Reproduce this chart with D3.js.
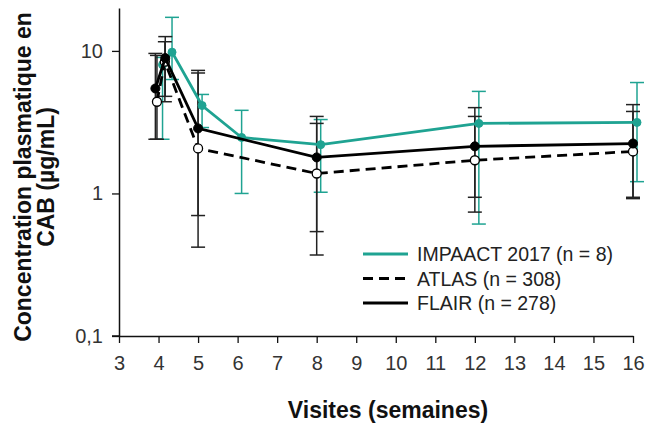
<!DOCTYPE html>
<html lang="fr">
<head>
  <meta charset="UTF-8">
  <title>Concentration plasmatique en CAB</title>
  <script src="https://d3js.org/d3.v7.min.js"></script>
  <style>
    body { margin: 0; background: #fff; }
    #chart { display: block; }
    text { font-family: "Liberation Sans", Arial, sans-serif; }
  </style>
</head>
<body>
  <svg id="chart" width="653" height="434"></svg>

  <script>
    // weeks shown on the x axis
    const xTicks = [3, 4, 5, 6, 7, 8, 9, 10, 11, 12, 13, 14, 15, 16];
    const yTicks = [0.1, 1, 10];

    // IMPAACT 2017 (teal, filled)
    const impaactWeeks = [4, 4.24, 5, 6, 8, 12, 16];
    const impaactMedian = [8.0, 9.8, 4.14, 2.47, 2.2, 3.1, 3.15];
    const impaactLow = [2.4, 6.3, 2.9, 1.0, 1.02, 0.61, 1.21];
    const impaactHigh = [9.0, 17.2, 4.95, 3.83, 3.3, 5.2, 6.0];

    // ATLAS (dashed, open circles)
    const atlasWeeks = [3.96, 4.16, 5, 8, 12, 16];
    const atlasMedian = [4.4, 8.4, 2.07, 1.38, 1.71, 1.97];
    const atlasLow = [2.4, 4.4, 0.42, 0.37, 0.74, 0.92];
    const atlasHigh = [9.3, 11.6, 7.0, 3.1, 3.47, 3.76];

    // FLAIR (solid black, filled)
    const flairWeeks = [3.92, 4.17, 5, 8, 12, 16];
    const flairMedian = [5.45, 8.9, 2.86, 1.79, 2.14, 2.24];
    const flairLow = [2.4, 4.8, 0.70, 0.54, 0.94, 0.94];
    const flairHigh = [9.6, 12.6, 7.3, 3.47, 4.0, 4.2];

    const legendLabels = ["IMPAACT 2017 (n = 8)", "ATLAS (n = 308)", "FLAIR (n = 278)"];

    const teal = "#1fa392";
    const svg = d3.select("#chart");

    const x = d3.scaleLinear().domain([3, 16]).range([119, 633]);
    const y = d3.scaleLog().domain([0.1, 20]).range([336, 8]);

    function zip(weeks, med, lo, hi) {
      return weeks.map((w, i) => ({ w: w, m: med[i], lo: lo[i], hi: hi[i] }));
    }

    const series = [
      { name: legendLabels[0], data: zip(impaactWeeks, impaactMedian, impaactLow, impaactHigh),
        color: teal, barColor: teal, dash: null, open: false, dx: 4, r: 4 },
      { name: legendLabels[1], data: zip(atlasWeeks, atlasMedian, atlasLow, atlasHigh),
        color: "#000", barColor: "#222", dash: "10,6", open: true, dx: 0, r: 4.5 },
      { name: legendLabels[2], data: zip(flairWeeks, flairMedian, flairLow, flairHigh),
        color: "#000", barColor: "#222", dash: null, open: false, dx: 0, r: 4.5 }
    ];

    // axes
    const yAxis = svg.append("g")
      .attr("transform", `translate(${x(3)},0)`)
      .call(d3.axisLeft(y).tickValues(yTicks).tickSize(7).tickSizeOuter(0)
        .tickFormat(d => String(d).replace(".", ",")));

    const xAxis = svg.append("g")
      .attr("transform", `translate(0,${y(0.1)})`)
      .call(d3.axisBottom(x).tickValues(xTicks).tickSize(7).tickSizeOuter(0));

    [xAxis, yAxis].forEach(g => {
      g.select(".domain").attr("stroke", "#111").attr("stroke-width", 1.5);
      g.selectAll(".tick line").attr("stroke", "#111").attr("stroke-width", 1.3);
      g.selectAll(".tick text")
        .attr("font-size", 20)
        .attr("fill", "#333")
        .attr("font-family", "Liberation Sans, Arial, sans-serif");
    });
    yAxis.selectAll(".tick text").attr("x", -16);
    xAxis.selectAll(".tick text").attr("y", 20);
    // x axis line starts a little left of the y axis
    xAxis.append("line")
      .attr("x1", x(3) - 7).attr("x2", x(3))
      .attr("stroke", "#111").attr("stroke-width", 1.5);

    // error bars
    const capW = 7;
    series.forEach(s => {
      const g = svg.append("g");
      s.data.forEach(d => {
        const cx = x(d.w) + s.dx;
        g.append("line")
          .attr("x1", cx).attr("x2", cx)
          .attr("y1", y(d.lo)).attr("y2", y(d.hi))
          .attr("stroke", s.barColor).attr("stroke-width", 1.5);
        [d.lo, d.hi].forEach(v => {
          g.append("line")
            .attr("x1", cx - capW).attr("x2", cx + capW)
            .attr("y1", y(v)).attr("y2", y(v))
            .attr("stroke", s.barColor).attr("stroke-width", 1.5);
        });
      });
    });

    // lines and markers
    series.forEach(s => {
      const line = d3.line().x(d => x(d.w) + s.dx).y(d => y(d.m));
      svg.append("path")
        .datum(s.data)
        .attr("d", line)
        .attr("fill", "none")
        .attr("stroke", s.color)
        .attr("stroke-width", 2.8)
        .attr("stroke-dasharray", s.dash);

      svg.append("g").selectAll("circle")
        .data(s.data)
        .join("circle")
        .attr("cx", d => x(d.w) + s.dx)
        .attr("cy", d => y(d.m))
        .attr("r", s.r)
        .attr("fill", s.open ? "#fff" : s.color)
        .attr("stroke", s.color)
        .attr("stroke-width", s.open ? 1.3 : 1);
    });

    // legend
    const legend = svg.append("g").attr("transform", "translate(363,254)");
    series.forEach((s, i) => {
      const row = legend.append("g").attr("transform", `translate(0,${i * 24.5})`);
      row.append("line")
        .attr("x1", 0).attr("x2", 45)
        .attr("stroke", s.color)
        .attr("stroke-width", 2.8)
        .attr("stroke-dasharray", s.dash);
      row.append("text")
        .attr("x", 54).attr("y", 7)
        .attr("font-size", 19.5)
        .attr("fill", "#222")
        .text(s.name);
    });

    // axis titles
    svg.append("text")
      .attr("x", 388).attr("y", 418)
      .attr("text-anchor", "middle")
      .attr("font-size", 23)
      .attr("font-weight", "bold")
      .attr("fill", "#111")
      .text("Visites (semaines)");

    const yTitle = svg.append("text")
      .attr("transform", "translate(31,177) rotate(-90)")
      .attr("text-anchor", "middle")
      .attr("font-size", 23)
      .attr("font-weight", "bold")
      .attr("fill", "#111");
    yTitle.append("tspan").attr("x", 0).attr("dy", 0).text("Concentration plasmatique en");
    yTitle.append("tspan").attr("x", 0).attr("dy", 23).text("CAB (µg/mL)");
  </script>
</body>
</html>
